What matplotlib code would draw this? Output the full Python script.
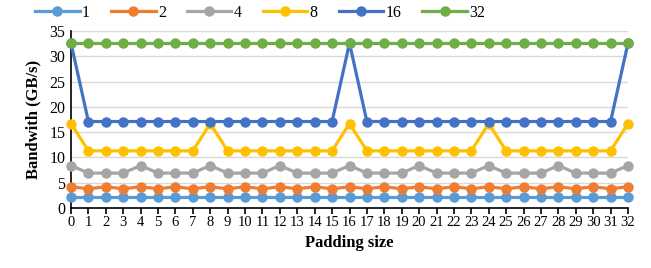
import matplotlib.pyplot as plt
import numpy as np

plt.rcParams['font.family'] = ['Liberation Serif', 'DejaVu Serif']

padding = list(range(33))
bw_1 = [2.1] * 33
bw_2 = [4.2, 3.8] * 16 + [4.2]
bw_4 = [8.4, 6.9, 6.9, 6.9] * 8 + [8.4]
bw_8 = [16.7, 11.3, 11.3, 11.3, 11.3, 11.3, 11.3, 11.3] * 4 + [16.7]
bw_16 = [32.6] + [17.1] * 15 + [32.6] + [17.1] * 15 + [32.6]
bw_32 = [32.6] * 33

series = [('1', bw_1, '#5B9BD5'), ('2', bw_2, '#ED7D31'), ('4', bw_4, '#A5A5A5'),
          ('8', bw_8, '#FFC000'), ('16', bw_16, '#4472C4'), ('32', bw_32, '#70AD47')]

fig = plt.figure(figsize=(6.51, 2.68), dpi=100)
ax = fig.add_axes([71 / 651, 60 / 268, 557 / 651, 177 / 268])

for name, vals, color in series:
    ax.plot(padding, vals, color=color, lw=2.3, marker='o', ms=6.5, label=name, clip_on=False, zorder=3)

ax.set_xlim(0, 32)
ax.set_ylim(0, 35)
ax.set_xticks(padding)
ax.set_yticks(range(0, 36, 5))
ax.tick_params(axis='x', labelsize=10.5, direction='out', length=4, width=1.2, pad=2)
ax.tick_params(axis='y', labelsize=11.5, length=0, pad=4)
ax.grid(axis='y', color='#D9D9D9', lw=1)
ax.set_axisbelow(True)
for s in ['top', 'right']:
    ax.spines[s].set_visible(False)
ax.spines['left'].set_linewidth(1.2)
ax.spines['bottom'].set_linewidth(1.2)
ax.set_xlabel('Padding size', fontsize=12, fontweight='bold', labelpad=4)
ax.set_ylabel('Bandwith (GB/s)', fontsize=12, fontweight='bold', labelpad=6)

fig.legend(loc='center left', bbox_to_anchor=(35 / 651, 1 - 13 / 268), ncol=6, frameon=False,
           fontsize=11.5, handlelength=2.8, columnspacing=1.3, handletextpad=0.15,
           borderaxespad=0, borderpad=0)

fig.savefig('out.png', dpi=100)
